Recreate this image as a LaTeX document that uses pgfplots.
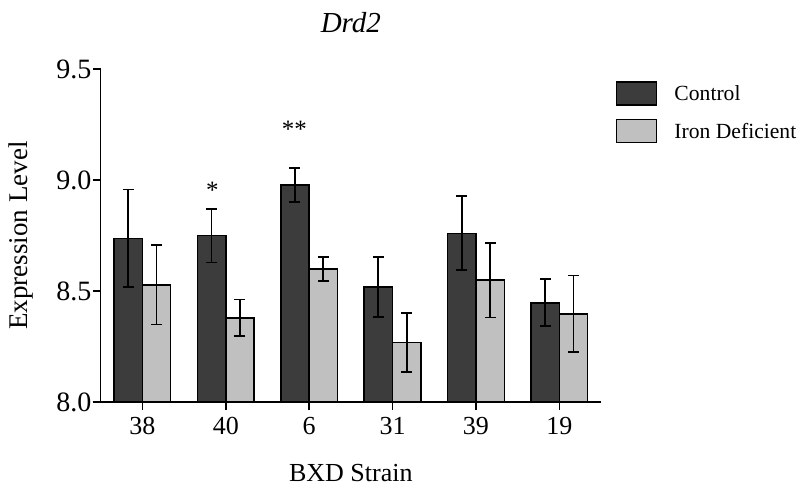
\documentclass[border=0pt]{standalone}
\usepackage{fontspec}
\setmainfont{Liberation Serif}
\usepackage{pgfplots}
\pgfplotsset{compat=1.18}
\definecolor{ctrl}{RGB}{60,60,60}
\definecolor{iron}{RGB}{192,192,192}
\begin{document}
\begin{tikzpicture}
\path[use as bounding box] (-50.35pt,-45.5pt) rectangle (349.65pt,201pt);
\begin{axis}[
  scale only axis, width=250.15pt, height=166.5pt,
  ybar=0pt, bar width=0.34,
  xmin=-0.5, xmax=5.5, ymin=8, ymax=9.5,
  axis x line*=bottom, axis y line*=left,
  axis line style={line width=0.75pt, black},
  xtick={0,1,2,3,4,5}, xticklabels={38,40,6,31,39,19},
  ytick={8,8.5,9,9.5},
  tick align=outside, major tick length=4pt,
  tick style={line width=0.75pt, black},
  /pgf/number format/assume math mode=true,
  yticklabel style={/pgf/number format/fixed, /pgf/number format/fixed zerofill, /pgf/number format/precision=1, font=\fontsize{14}{16}\selectfont, inner sep=0.5pt},
  xticklabel style={font=\fontsize{13}{15}\selectfont},
  title={\textit{Drd2}},
  title style={font=\fontsize{14.5}{17}\selectfont, at={(axis description cs:0.5,1)}, anchor=base, yshift=12.5pt},
  xlabel={BXD Strain},
  xlabel style={font=\fontsize{13}{15}\selectfont, at={(axis description cs:0.5,0)}, anchor=base, yshift=-39.85pt},
  ylabel={Expression Level},
  ylabel style={font=\fontsize{13.5}{16}\selectfont, at={(axis description cs:-0.159,0.5)}, anchor=center},
  legend style={draw=none, fill=none, at={(axis description cs:1,1)}, anchor=north west, xshift=7.5pt, yshift=-6pt, inner sep=0pt, outer sep=0pt, row sep=6.7pt, column sep=8.5pt, font=\fontsize{10.8}{13}\selectfont, nodes={inner sep=0pt}},
  legend cell align=left,
  clip=false,
  error bars/y dir=both, error bars/y explicit,
  error bars/error bar style={line width=0.9pt, black},
  error bars/error mark options={line width=0.9pt, black, mark size=2.75pt, rotate=90},
]
\addplot[fill=ctrl, draw=black, line width=0.75pt,
  legend image code/.code={\draw[fill=ctrl, draw=black, line width=0.75pt] (0pt,-5.1pt) rectangle (20pt,6.4pt);}]
 coordinates {(0,8.737) +- (0,0.220) (1,8.749) +- (0,0.121) (2,8.978) +- (0,0.076)
              (3,8.518) +- (0,0.134) (4,8.760) +- (0,0.167) (5,8.447) +- (0,0.106)};
\addlegendentry{Control}
\addplot[fill=iron, draw=black, line width=0.75pt,
  legend image code/.code={\draw[fill=iron, draw=black, line width=0.75pt] (0pt,-5.1pt) rectangle (20pt,6.4pt);}]
 coordinates {(0,8.528) +- (0,0.179) (1,8.379) +- (0,0.083) (2,8.599) +- (0,0.053)
              (3,8.268) +- (0,0.134) (4,8.549) +- (0,0.168) (5,8.397) +- (0,0.173)};
\addlegendentry{Iron Deficient}
\node[font=\fontsize{12.5}{14}\selectfont, anchor=north, inner sep=0pt] at (axis cs:0.84,8.992) {*};
\node[font=\fontsize{12.5}{14}\selectfont, anchor=north, inner sep=0pt] at (axis cs:1.823,9.267) {**};
\end{axis}
\end{tikzpicture}
\end{document}
